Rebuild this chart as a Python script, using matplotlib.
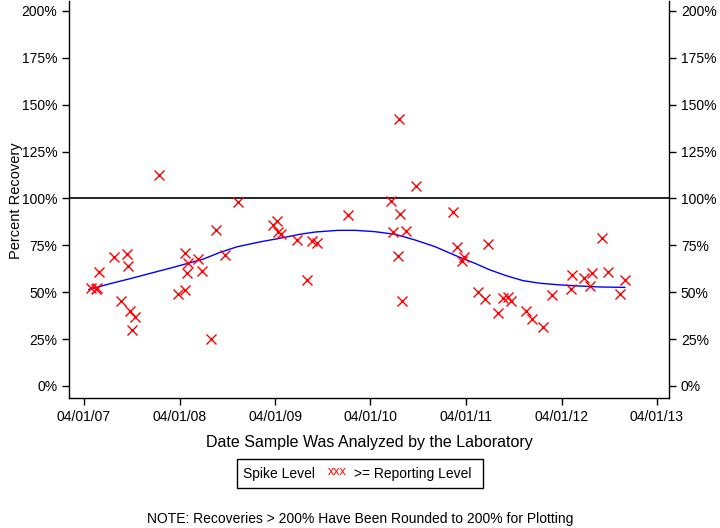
import pandas as pd
import matplotlib
matplotlib.use('Agg')
import matplotlib.pyplot as plt
import matplotlib.dates as mdates
from matplotlib.patches import Rectangle

plt.rcParams['font.family'] = ['Liberation Sans', 'DejaVu Sans']

# sample dates and percent recovery
dates = ['2007-04-28', '2007-05-16', '2007-05-23', '2007-05-28', '2007-07-26', '2007-08-22',
         '2007-09-12', '2007-09-16', '2007-09-24', '2007-10-03', '2007-10-14', '2008-01-14',
         '2008-03-26', '2008-04-22', '2008-04-22', '2008-04-30', '2008-05-04', '2008-06-10',
         '2008-06-25', '2008-07-31', '2008-08-19', '2008-09-22', '2008-11-11', '2009-03-25',
         '2009-04-08', '2009-04-14', '2009-04-22', '2009-06-26', '2009-07-31', '2009-08-21',
         '2009-09-08', '2010-01-06', '2010-06-18', '2010-06-26', '2010-07-16', '2010-07-20',
         '2010-07-24', '2010-07-29', '2010-08-16', '2010-09-23', '2011-02-12', '2011-02-27',
         '2011-03-19', '2011-03-25', '2011-05-18', '2011-06-13', '2011-06-25', '2011-08-03',
         '2011-08-21', '2011-09-11', '2011-09-19', '2011-11-17', '2011-12-11', '2012-01-21',
         '2012-02-25', '2012-05-08', '2012-05-12', '2012-06-24', '2012-07-20', '2012-07-27',
         '2012-09-04', '2012-09-25', '2012-11-11', '2012-11-30']
recovery = [52, 51.6, 52, 61, 68.8, 45.3,
            70.4, 64, 40, 29.9, 37, 112.5,
            49, 51.2, 70.8, 60, 65.4, 67.6,
            61.3, 25, 83, 69.7, 98, 85.9,
            88, 82, 81, 78, 56.5, 77.5,
            76, 91, 98.5, 82, 69.2, 142.2,
            91.6, 45.2, 82.5, 106.7, 93, 74,
            66.8, 69, 50, 46.2, 75.5, 38.7,
            46.8, 47.3, 45.5, 40, 35.5, 31.3,
            48.4, 51.6, 59, 57.6, 53.2, 60.4,
            79.1, 60.8, 49, 56.5]

# smoothed trend line
trend_dates = ['2007-04-20', '2007-07-09', '2007-09-24', '2007-12-09', '2008-02-24', '2008-06-29',
               '2008-09-02', '2008-11-06', '2009-02-01', '2009-04-20', '2009-07-05', '2009-09-01',
               '2009-11-28', '2010-02-01', '2010-04-18', '2010-07-04', '2010-09-18', '2010-12-04',
               '2011-02-18', '2011-05-06', '2011-07-02', '2011-09-05', '2011-11-05', '2012-01-09',
               '2012-03-26', '2012-06-10', '2012-08-26', '2012-11-29']
trend = [51.5, 54.5, 57.2, 60.0, 62.8, 67.6,
         71.2, 74.2, 76.8, 78.8, 80.9, 82.1,
         83.0, 83.0, 82.3, 80.9, 77.9, 74.3,
         69.7, 65.4, 61.9, 58.7, 56.2, 54.8,
         53.9, 53.3, 52.8, 52.6]

xticks = ['2007-04-01', '2008-04-01', '2009-04-01', '2010-04-01', '2011-04-01', '2012-04-01', '2013-04-01']
yticks = [0, 25, 50, 75, 100, 125, 150, 175, 200]

d = pd.to_datetime(dates)
td = pd.to_datetime(trend_dates)

fig = plt.figure(figsize=(7.2, 5.28), dpi=100)
ax = fig.add_axes([69/720, 1-398/528, 600/720, 397/528])

ax.axhline(100, color='black', lw=1.2, zorder=1)
ax.plot(td, trend, color='blue', lw=1, zorder=2)
ax.plot(d, recovery, 'x', color='red', ms=7, mew=1, zorder=3)

ax.set_xlim(pd.Timestamp('2007-02-03'), pd.Timestamp('2013-05-17'))
ax.set_ylim(-6.4, 205.3)
ax.set_xticks(pd.to_datetime(xticks))
ax.xaxis.set_major_formatter(mdates.DateFormatter('%m/%d/%y'))
ax.set_yticks(yticks)
ax.set_yticklabels([f'{v}%' for v in yticks])
ax.tick_params(axis='both', direction='out', length=5, width=1, labelsize=10, color='black')
ax.tick_params(axis='y', right=True, labelright=True)
ax.spines['top'].set_visible(False)
for s in ['left', 'right', 'bottom']:
    ax.spines[s].set_linewidth(1)

ax.set_xlabel('Date Sample Was Analyzed by the Laboratory', fontsize=11.5, labelpad=8)
fig.text(16/720, 1-201/528, 'Percent Recovery', fontsize=10.5, rotation=90,
         ha='center', va='center')

# legend box
fig.patches.append(Rectangle((237/720, 1-488/528), 246/720, 29/528, transform=fig.transFigure,
                             fill=False, edgecolor='black', lw=1))
fig.text(243/720, 1-474/528, 'Spike Level', fontsize=10, va='center')
fig.text(328/720, 1-472/528, 'xxx', color='red', fontsize=9, va='center')
fig.text(354/720, 1-474/528, '>= Reporting Level', fontsize=10, va='center')

fig.text(0.5, 1-519/528, 'NOTE: Recoveries > 200% Have Been Rounded to 200% for Plotting',
         fontsize=10, ha='center', va='center')

fig.savefig('out.png', dpi=100)
